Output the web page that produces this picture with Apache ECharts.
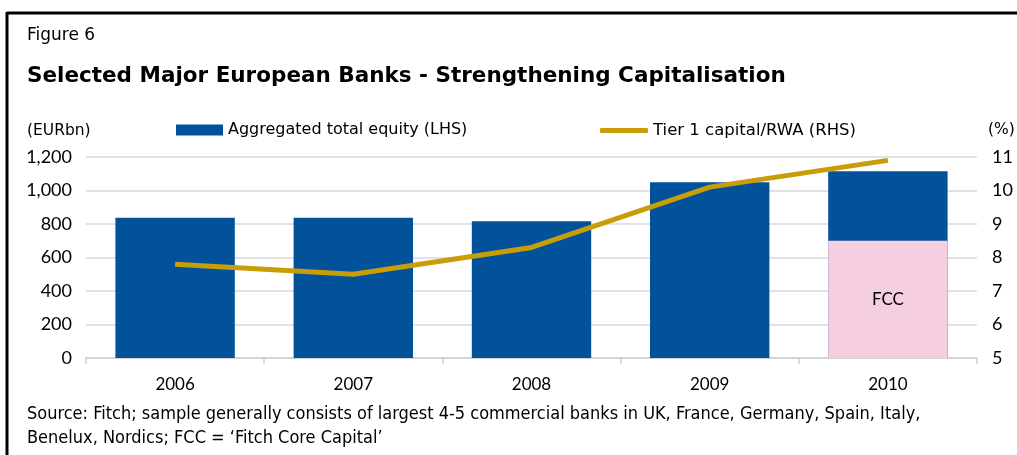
<!DOCTYPE html>
<html>
<head>
<meta charset="utf-8">
<script src="https://cdn.jsdelivr.net/npm/echarts@6/dist/echarts.min.js"></script>
<style>
html,body{margin:0;padding:0;background:#fff;}
#chart{width:1017px;height:455px;}
</style>
</head>
<body>
<div id="chart"></div>
<script>
const categories = ['2006', '2007', '2008', '2009', '2010'];
const totalEquity = [837, 837, 817, 1049, 1115];
const fccValues = [null, null, null, null, 700];
const tier1Ratio = [7.8, 7.5, 8.3, 10.1, 10.9];
const leftTicks = [0, 200, 400, 600, 800, 1000, 1200];
const rightTicks = [5, 6, 7, 8, 9, 10, 11];

const FONT = '"DejaVu Sans", sans-serif';
const AXFONT = 'Lato, sans-serif';
const chart = echarts.init(document.getElementById('chart'));
const option = {
  animation: false,
  backgroundColor: '#ffffff',
  textStyle: { fontFamily: FONT },
  graphic: [
    { type: 'line', shape: { x1: 7, y1: 13, x2: 1017, y2: 13 }, style: { stroke: '#000', lineWidth: 3 } },
    { type: 'line', shape: { x1: 7, y1: 12, x2: 7, y2: 455 }, style: { stroke: '#000', lineWidth: 3 } },
    { type: 'text', left: 27, top: 27, style: { text: 'Figure 6', font: '17px ' + FONT, fill: '#000' } },
    { type: 'text', left: 27, top: 65, style: { text: 'Selected Major European Banks - Strengthening Capitalisation', font: 'bold 21.5px ' + FONT, fill: '#000' } },
    { type: 'text', left: 27, top: 123, style: { text: '(EURbn)', font: '15.5px ' + FONT, fill: '#000' } },
    { type: 'text', left: 988, top: 122, style: { text: '(%)', font: '15.5px ' + FONT, fill: '#000' } },
    { type: 'text', left: 27, top: 405, style: { text: 'Source: Fitch; sample generally consists of largest 4-5 commercial banks in UK, France, Germany, Spain, Italy,', font: '18px "DejaVu Sans Condensed", sans-serif', fill: '#000' } },
    { type: 'text', left: 27, top: 429, style: { text: 'Benelux, Nordics; FCC = \u2018Fitch Core Capital\u2019', font: '18px "DejaVu Sans Condensed", sans-serif', fill: '#000' } }
  ],
  legend: [
    {
      left: 171, top: 117, itemWidth: 47, itemHeight: 11, itemGap: 5,
      data: [{ name: 'Aggregated total equity (LHS)', icon: 'rect' }],
      textStyle: { fontSize: 16, color: '#000', fontFamily: FONT }
    },
    {
      left: 595, top: 117, itemWidth: 48, itemHeight: 5, itemGap: 4,
      data: [{ name: 'Tier 1 capital/RWA (RHS)', icon: 'roundRect' }],
      textStyle: { fontSize: 16.5, color: '#000', fontFamily: FONT }
    }
  ],
  grid: { left: 86, right: 40, top: 157, bottom: 97, containLabel: false },
  xAxis: {
    type: 'category',
    data: categories,
    boundaryGap: true,
    axisLine: { lineStyle: { color: '#d0d0d0', width: 1.5 } },
    axisTick: { show: true, length: 6, lineStyle: { color: '#d0d0d0', width: 1.5 } },
    axisLabel: { fontSize: 17, color: '#000', margin: 18, fontFamily: AXFONT }
  },
  yAxis: [
    {
      type: 'value', min: 0, max: 1200, interval: 200,
      axisLine: { show: false }, axisTick: { show: false },
      splitLine: { lineStyle: { color: '#d9d9d9', width: 1.5 } },
      axisLabel: {
        fontSize: 18, color: '#000', margin: 14, fontFamily: AXFONT,
        formatter: v => leftTicks.includes(v) ? v.toLocaleString('en-US') : ''
      }
    },
    {
      type: 'value', min: 5, max: 11, interval: 1, position: 'right',
      axisLine: { show: false }, axisTick: { show: false }, splitLine: { show: false },
      axisLabel: {
        fontSize: 18, color: '#000', margin: 15, fontFamily: AXFONT,
        formatter: v => rightTicks.includes(v) ? String(v) : ''
      }
    }
  ],
  series: [
    {
      name: 'Aggregated total equity (LHS)', type: 'bar', yAxisIndex: 0,
      data: totalEquity, barCategoryGap: '33%',
      itemStyle: { color: '#01529b' }
    },
    {
      name: 'FCC', type: 'bar', yAxisIndex: 0,
      data: fccValues, barGap: '-100%',
      itemStyle: { color: '#f5cfdf', borderWidth: 0 },
      label: { show: true, position: 'inside', formatter: 'FCC', fontSize: 17, color: '#000', fontFamily: AXFONT }
    },
    {
      name: 'Tier 1 capital/RWA (RHS)', type: 'line', yAxisIndex: 1,
      data: tier1Ratio, symbol: 'none',
      lineStyle: { color: '#c99d07', width: 5 },
      itemStyle: { color: '#c99d07' }
    }
  ]
};
chart.setOption(option);
</script>
</body>
</html>
